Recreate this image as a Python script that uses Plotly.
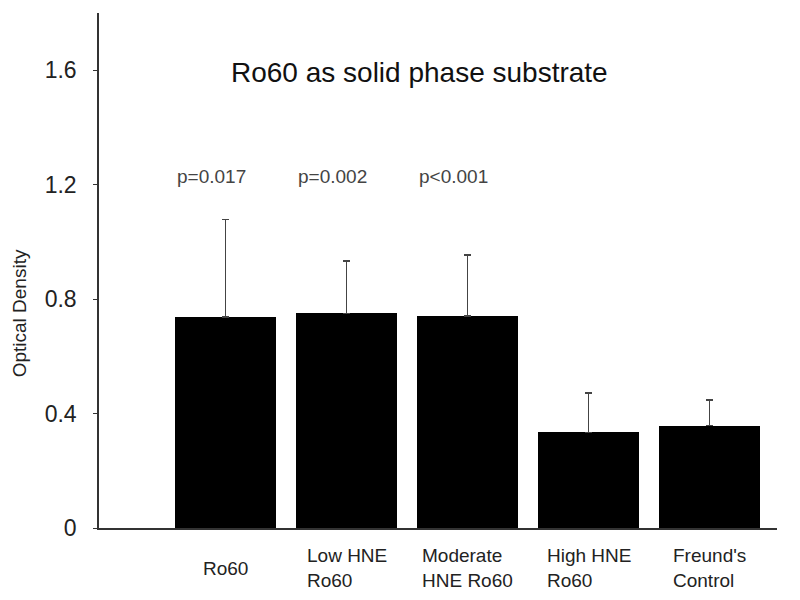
import plotly.graph_objects as go

categories = ["Ro60", "Low HNE<br>Ro60", "Moderate<br>HNE Ro60", "High HNE<br>Ro60", "Freund's<br>Control"]
optical_density = [0.737, 0.750, 0.741, 0.334, 0.358]
error_plus = [0.341, 0.184, 0.213, 0.137, 0.089]
p_values = ["p=0.017", "p=0.002", "p<0.001"]
y_ticks = [0, 0.4, 0.8, 1.2, 1.6]
y_tick_labels = ["0", "0.4", "0.8", "1.2", "1.6"]

xpos = list(range(len(categories)))
bar_width = 0.83
font_family = "Liberation Sans, Arial, sans-serif"

fig = go.Figure()
fig.add_trace(go.Bar(
    x=xpos, y=optical_density, width=bar_width,
    marker=dict(color="black", line=dict(width=0)),
    error_y=dict(type="data", array=error_plus, symmetric=False, arrayminus=[0]*len(categories),
                 color="#444444", thickness=1.5, width=3.5),
    showlegend=False,
))

annotations = []
for i, lab in enumerate(categories):
    annotations.append(dict(x=xpos[i], xref="x", y=-0.0777, yref="paper", text=lab,
                            showarrow=False, xanchor="center", yanchor="middle", align="left",
                            font=dict(size=19, color="#222222", family=font_family)))
for i, p in enumerate(p_values):
    annotations.append(dict(x=xpos[i] - bar_width / 2, xref="x", y=0.6816, yref="paper", text=p,
                            showarrow=False, xanchor="left", yanchor="middle",
                            font=dict(size=19, color="#444444", family=font_family)))
annotations.append(dict(x=0.473, xref="paper", y=0.885, yref="paper", text="Ro60 as solid phase substrate",
                        showarrow=False, xanchor="center", yanchor="middle",
                        font=dict(size=28, color="#111111", family=font_family)))
annotations.append(dict(x=-0.116, xref="paper", y=0.4175, yref="paper", text="Optical Density",
                        showarrow=False, textangle=-90, xanchor="center", yanchor="middle",
                        font=dict(size=19, color="#222222", family=font_family)))

fig.update_layout(
    width=784, height=584,
    margin=dict(l=91, r=15, t=5, b=64),
    plot_bgcolor="white", paper_bgcolor="white",
    annotations=annotations,
    xaxis=dict(range=[-1.047, 4.558], showgrid=False, zeroline=False, showticklabels=False,
               showline=True, linecolor="#333333", linewidth=1.5, ticks=""),
    yaxis=dict(range=[0, 1.8], showgrid=False, zeroline=False, showline=True,
               linecolor="#333333", linewidth=1.5, ticks="outside", ticklen=4, tickcolor="#333333",
               tickvals=y_ticks, ticktext=y_tick_labels, ticklabelstandoff=12,
               tickfont=dict(size=23, color="#222222", family=font_family)),
    bargap=0,
)

fig.write_html("out.html")
